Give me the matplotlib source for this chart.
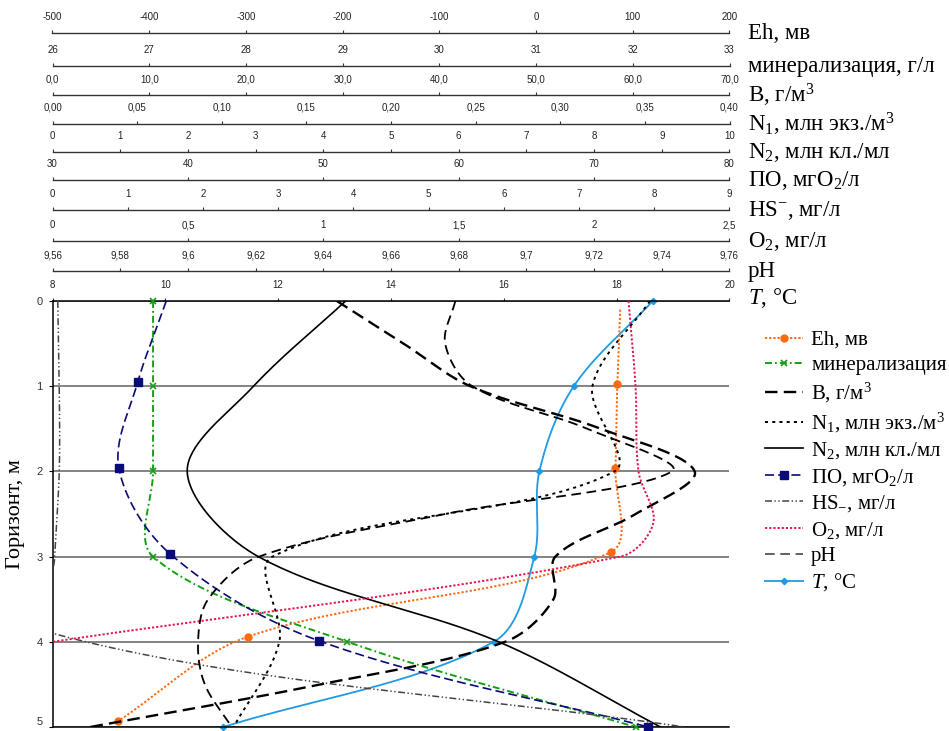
"""
Vertical profiles of water properties by depth, with stacked top scales
"""

import numpy as np
import matplotlib as mpl
mpl.use('Agg')
import matplotlib.pyplot as plt
from matplotlib.lines import Line2D

mpl.rcParams['lines.scale_dashes'] = False
mpl.rcParams['mathtext.fontset'] = 'custom'
mpl.rcParams['mathtext.rm'] = 'Liberation Serif'
mpl.rcParams['mathtext.it'] = 'Liberation Serif:italic'

# ---- data (depth, m and values) ----
eh_depth = [0.1, 0.98, 1.96, 2.95, 3.94, 4.93]
eh = [87, 84, 82, 77, -298, -432]

mineral_depth = [0, 1, 2, 3, 4, 5]
mineral = [27.04, 27.04, 27.04, 27.04, 29.05, 32.03]

b_depth = [0, 0.5, 1, 1.5, 2, 2.5, 3, 3.5, 4, 4.5, 5]
biomass = [29.4, 36.3, 43.2, 56.7, 66.4, 60.3, 52.0, 51.8, 46.8, 27.7, 3.9]

n1_depth = [0, 1, 2, 3, 4, 5]
n1 = [0.353, 0.319, 0.332, 0.130, 0.134, 0.107]

n2_depth = [0, 1, 2, 3, 4, 5]
n2 = [4.33, 2.97, 1.99, 3.04, 6.59, 8.98]

po_depth = [0, 0.95, 1.96, 2.97, 3.99, 5.0]
po = [38.4, 36.3, 34.9, 38.7, 49.7, 74.0]

hs_depth = [0, 1, 2, 3, 3.9, 5]
hs = [0.07, 0.09, 0.09, 0.03, 0.0, 8.4]

o2_depth = [0, 1, 2, 2.6, 3, 4]
o2 = [2.127, 2.153, 2.164, 2.219, 2.097, 0.0]

ph_depth = [0, 0.5, 1, 1.5, 2, 2.5, 3, 3.5, 4, 4.5, 5]
ph = [9.679, 9.676, 9.684, 9.718, 9.743, 9.676, 9.621, 9.606, 9.603, 9.605, 9.613]

t_depth = [0, 1, 2, 3, 4, 5]
temp = [18.64, 17.24, 16.63, 16.54, 15.82, 11.03]

# top scales: key, limits, tick values, tick labels, caption
scales = [
    ('eh', (-500, 200), [-500, -400, -300, -200, -100, 0, 100, 200],
     ['-500', '-400', '-300', '-200', '-100', '0', '100', '200'], 'Eh, мв'),
    ('min', (26, 33), [26, 27, 28, 29, 30, 31, 32, 33],
     ['26', '27', '28', '29', '30', '31', '32', '33'], 'минерализация, г/л'),
    ('b', (0, 70), [0, 10, 20, 30, 40, 50, 60, 70],
     ['0,0', '10,0', '20,0', '30,0', '40,0', '50,0', '60,0', '70,0'], 'B, г/м$^3$'),
    ('n1', (0, 0.4), [0, 0.05, 0.1, 0.15, 0.2, 0.25, 0.3, 0.35, 0.4],
     ['0,00', '0,05', '0,10', '0,15', '0,20', '0,25', '0,30', '0,35', '0,40'],
     'N$_1$, млн экз./м$^3$'),
    ('n2', (0, 10), list(range(11)), [str(i) for i in range(11)], 'N$_2$, млн кл./мл'),
    ('po', (30, 80), [30, 40, 50, 60, 70, 80],
     ['30', '40', '50', '60', '70', '80'], 'ПО, мгО$_2$/л'),
    ('hs', (0, 9), list(range(10)), [str(i) for i in range(10)], 'HS$^{-}$, мг/л'),
    ('o2', (0, 2.5), [0, 0.5, 1, 1.5, 2, 2.5],
     ['0', '0,5', '1', '1,5', '2', '2,5'], 'O$_2$, мг/л'),
    ('ph', (9.56, 9.76), [9.56, 9.58, 9.6, 9.62, 9.64, 9.66, 9.68, 9.7, 9.72, 9.74, 9.76],
     ['9,56', '9,58', '9,6', '9,62', '9,64', '9,66', '9,68', '9,7', '9,72', '9,74', '9,76'], 'pH'),
]
t_ticks = [8, 10, 12, 14, 16, 18, 20]

# pixel rows of the scale lines
scale_rows = [33.5, 66.5, 95.5, 124, 152.5, 180.5, 210, 241.5, 271.5]

FW, FH = 949, 731
AX_L, AX_W = 52.5, 677
AX_TOP, AX_BOT = 301, 727

fig = plt.figure(figsize=(FW / 100, FH / 100), dpi=100)
ax = fig.add_axes([AX_L / FW, 1 - AX_BOT / FH, AX_W / FW, (AX_BOT - AX_TOP) / FH])

sans = 'Liberation Sans'
serif = 'Liberation Serif'

# stacked scales above the plot
for (key, lim, tv, tl, cap), row in zip(scales, scale_rows):
    sa = fig.add_axes([AX_L / FW, 1 - row / FH, AX_W / FW, 0.0001])
    sa.set_xlim(*lim)
    sa.patch.set_visible(False)
    for s in ['left', 'right', 'bottom']:
        sa.spines[s].set_visible(False)
    sa.spines['top'].set_color('#333333')
    sa.spines['top'].set_linewidth(1.0)
    sa.set_yticks([])
    sa.xaxis.tick_top()
    sa.set_xticks(tv)
    sa.set_xticklabels(tl, fontsize=7, family=sans, color='#222222')
    sa.tick_params(axis='x', direction='out', length=2, width=0.8, pad=6, color='#333333')
    fig.text(748 / FW, 1 - row / FH, cap, fontsize=16.5, family=serif, va='center', ha='left')

fig.text(748 / FW, 1 - 298 / FH, '$T$, °C', fontsize=16.5, family=serif, va='center', ha='left')


def excel_smooth(vals, depths, lo, hi, n=40):
    # Excel-like smoothed line: Bezier segments built in screen proportions
    W = AX_W
    H = AX_BOT - AX_TOP
    P = np.column_stack([(np.asarray(vals, float) - lo) / (hi - lo) * W,
                         np.asarray(depths, float) / 5 * H])
    out = [P[0]]
    t = np.linspace(0, 1, n)[1:, None]
    for i in range(len(P) - 1):
        a = P[max(i - 1, 0)]
        b = P[i]
        c = P[i + 1]
        d = P[min(i + 2, len(P) - 1)]
        d1 = np.hypot(*(b - a))
        d2 = np.hypot(*(c - b))
        d3 = np.hypot(*(d - c))
        c1 = b + (c - a) * (d2 / (d1 + d2)) / 3 if d1 + d2 > 0 else b
        c2 = c - (d - b) * (d2 / (d2 + d3)) / 3 if d2 + d3 > 0 else c
        seg = (1 - t) ** 3 * b + 3 * (1 - t) ** 2 * t * c1 + 3 * (1 - t) * t ** 2 * c2 + t ** 3 * c
        out.extend(seg)
    out = np.array(out)
    return out[:, 0] / W * (hi - lo) + lo, out[:, 1] / H * 5


lims = {k: lim for k, lim, _, _, _ in scales}
lims['t'] = (8, 20)
ax.set_xlim(8, 20)
ax.set_ylim(5, 0)

series = [
    ('eh', eh, eh_depth, 'Eh, мв',
     dict(color='#ff6a10', lw=1.4, dashes=(1.6, 1.4)), dict(marker='o', ms=5, mfc='#ff6a10', mec='#ff6a10'), slice(1, None)),
    ('min', mineral, mineral_depth, 'минерализация',
     dict(color='#13a013', lw=1.4, dashes=(5, 2.2, 1.3, 2.2)), dict(marker='x', ms=5, mew=1.2, mfc='none', mec='#13a013'), slice(0, None)),
    ('b', biomass, b_depth, 'B, г/м$^3$',
     dict(color='black', lw=1.7, dashes=(9, 4.5)), None, None),
    ('n1', n1, n1_depth, 'N$_1$, млн экз./м$^3$',
     dict(color='black', lw=1.4, dashes=(2.2, 3)), None, None),
    ('n2', n2, n2_depth, 'N$_2$, млн кл./мл',
     dict(color='black', lw=1.2, linestyle='-'), None, None),
    ('po', po, po_depth, 'ПО, мгО$_2$/л',
     dict(color='#0a0a78', lw=1.2, dashes=(6.5, 3)), dict(marker='s', ms=6, mfc='#0a0a78', mec='#0a0a78'), slice(1, None)),
    ('hs', hs, hs_depth, 'HS$_{-}$, мг/л',
     dict(color='#444444', lw=1.1, dashes=(5, 1.8, 1, 1.8, 1, 1.8)), None, None),
    ('o2', o2, o2_depth, 'O$_2$, мг/л',
     dict(color='#e8174e', lw=1.4, dashes=(1.6, 1.4)), None, None),
    ('ph', ph, ph_depth, 'pH',
     dict(color='black', lw=1.3, dashes=(7, 4)), None, None),
    ('t', temp, t_depth, '$T$, °C',
     dict(color='#1e9be6', lw=1.3, linestyle='-'), dict(marker='D', ms=3.2, mfc='#1e9be6', mec='#1e9be6'), slice(0, None)),
]

handles = []
labels = []
for key, vals, dep, lab, lstyle, mstyle, mslice in series:
    lo, hi = lims[key]
    tw = ax if key == 't' else ax.twiny()
    if tw is not ax:
        tw.set_xlim(lo, hi)
        tw.axis('off')
    xs, ys = excel_smooth(vals, dep, lo, hi)
    tw.plot(xs, ys, **lstyle)
    if mstyle is not None:
        tw.plot(np.asarray(vals)[mslice], np.asarray(dep)[mslice], linestyle='none', clip_on=False, **mstyle)
    hstyle = dict(lstyle)
    if key == 'ph':
        hstyle['color'] = '#555555'
    h = Line2D([], [], **hstyle, **(mstyle or {}))
    if mstyle is not None:
        h.set_markevery([1])
        h.set_xdata([0, 1, 2])
    handles.append(h)
    labels.append(lab)

# main axes = temperature scale (set after twiny, which moves ticks to bottom)
ax.set_xlim(8, 20)
ax.set_ylim(5, 0)
ax.xaxis.tick_top()
ax.set_xticks(t_ticks)
ax.set_xticklabels([str(t) for t in t_ticks], fontsize=7, family=sans, color='#222222')
ax.tick_params(axis='x', which='both', top=True, bottom=False, labeltop=True, labelbottom=False,
               direction='out', length=2, width=0.8, pad=6, color='#333333')
ax.set_yticks([0, 1, 2, 3, 4, 5])
ax.set_yticklabels(['0', '1', '2', '3', '4', '5'], fontsize=8, family=sans, color='#333333')
ax.tick_params(axis='y', direction='out', length=3, width=0.8, pad=4)
ax.get_yticklabels()[-1].set_va('bottom')
ax.spines['right'].set_visible(False)
for s in ['top', 'left', 'bottom']:
    ax.spines[s].set_linewidth(1.1)
ax.yaxis.grid(True, color='#7a7a7a', lw=1.3)
ax.set_axisbelow(True)
ax.set_ylabel('Горизонт, м', fontsize=16, family=serif, labelpad=8)

fig.legend(handles, labels, loc='upper left', bbox_to_anchor=(757 / FW, 1 - 322 / FH),
           frameon=False, prop={'family': serif, 'size': 15}, handlelength=1.8,
           handletextpad=0.4, labelspacing=0.27, borderaxespad=0)

plt.savefig('out.png', dpi=100)
